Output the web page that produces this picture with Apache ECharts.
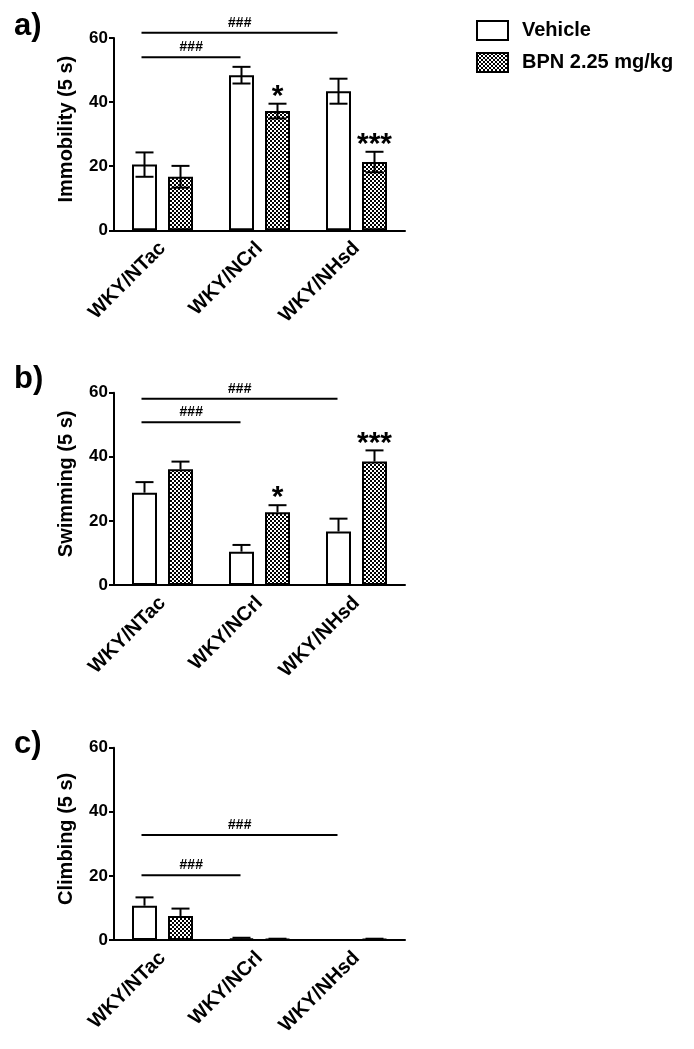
<!DOCTYPE html>
<html>
<head>
<meta charset="utf-8">
<script src="https://cdn.jsdelivr.net/npm/echarts@6/dist/echarts.min.js"></script>
<style>
html, body { margin: 0; padding: 0; background: #fff; }
#chart { width: 694px; height: 1049px; }
</style>
</head>
<body>
<div id="chart"></div>
<script>
// categories and tick labels
const categories = ['WKY/NTac', 'WKY/NCrl', 'WKY/NHsd'];
const groups = ['Vehicle', 'BPN 2.25 mg/kg'];
const yTicks = [0, 20, 40, 60];
const panelNames = ['Immobility (5 s)', 'Swimming (5 s)', 'Climbing (5 s)'];
const panelTags = ['a)', 'b)', 'c)'];

// a) immobility
const immVehicle = [20.5, 48.4, 43.4];
const immVehicleErr = [3.8, 2.6, 3.9];
const immBpn = [16.7, 37.2, 21.3];
const immBpnErr = [3.4, 2.3, 3.2];
const immStars = ['', '*', '***'];
const immSig = [[0, 1, 54], [0, 2, 61.6]];   // from group, to group, height

// b) swimming
const swimVehicle = [28.8, 10.4, 16.7];
const swimVehicleErr = [3.3, 2.1, 4.0];
const swimBpn = [36.1, 22.7, 38.5];
const swimBpnErr = [2.4, 2.2, 3.5];
const swimStars = ['', '*', '***'];
const swimSig = [[0, 1, 50.8], [0, 2, 58.1]];

// c) climbing
const climbVehicle = [10.7, 0.5, 0];
const climbVehicleErr = [2.6, 0.2, 0];
const climbBpn = [7.5, 0.3, 0.3];
const climbBpnErr = [2.3, 0.1, 0.1];
const climbStars = ['', '', ''];
const climbSig = [[0, 1, 20.2], [0, 2, 32.8]];

const panels = [
  {veh: immVehicle, vehErr: immVehicleErr, bpn: immBpn, bpnErr: immBpnErr, stars: immStars, sig: immSig, both: true},
  {veh: swimVehicle, vehErr: swimVehicleErr, bpn: swimBpn, bpnErr: swimBpnErr, stars: swimStars, sig: swimSig, both: false},
  {veh: climbVehicle, vehErr: climbVehicleErr, bpn: climbBpn, bpnErr: climbBpnErr, stars: climbStars, sig: climbSig, both: false}
];

const FONT = 'Liberation Sans, Arial, sans-serif';
const BAR_W = 25;
const BAR_GAP = 11;
const OFFSET = (BAR_W + BAR_GAP) / 2;
const gridTops = [38, 392.7, 747.7];
const tagTops = [11, 364, 729];

// checker pattern for the BPN bars
const tile = document.createElement('canvas');
tile.width = 4;
tile.height = 4;
const g = tile.getContext('2d');
g.fillStyle = '#000';
g.fillRect(0, 0, 4, 4);
g.fillStyle = '#fff';
g.fillRect(0, 0, 2, 2);
g.fillRect(2, 2, 2, 2);
const checker = {image: tile, repeat: 'repeat'};

function errBars(offset, both, stars) {
  return function (params, api) {
    const c = api.value(0), v = api.value(1), e = api.value(2);
    const top = api.coord([c, v + e]);
    const bot = api.coord([c, both ? v - e : v]);
    const x = top[0] + offset;
    const star = stars ? stars[params.dataIndex] : '';
    const kids = [
      {type: 'line', shape: {x1: x, y1: top[1], x2: x, y2: bot[1]}, style: {stroke: '#000', lineWidth: 2}},
      {type: 'line', shape: {x1: x - 9, y1: top[1], x2: x + 9, y2: top[1]}, style: {stroke: '#000', lineWidth: 2}}
    ];
    if (both) {
      kids.push({type: 'line', shape: {x1: x - 9, y1: bot[1], x2: x + 9, y2: bot[1]}, style: {stroke: '#000', lineWidth: 2}});
    }
    if (star) {
      kids.push({type: 'text', style: {x: x, y: top[1] + 8, text: star, fill: '#000',
        font: 'bold 30px ' + FONT, align: 'center', verticalAlign: 'bottom'}});
    }
    return {type: 'group', children: kids};
  };
}

function sigLines(params, api) {
  const a = api.coord([api.value(0), api.value(2)]);
  const b = api.coord([api.value(1), api.value(2)]);
  const x1 = a[0] - OFFSET - 3, x2 = b[0] - OFFSET - 1;
  return {type: 'group', children: [
    {type: 'line', shape: {x1: x1, y1: a[1], x2: x2, y2: a[1]}, style: {stroke: '#000', lineWidth: 2}},
    {type: 'text', style: {x: (x1 + x2) / 2, y: a[1] - 3, text: '###', fill: '#000',
      font: 'italic bold 14px ' + FONT, align: 'center', verticalAlign: 'bottom'}}
  ]};
}

const grids = [], xAxes = [], yAxes = [], series = [], graphics = [];
panels.forEach(function (p, i) {
  grids.push({left: 114, top: gridTops[i], width: 291, height: 192.3});
  xAxes.push({
    type: 'category', gridIndex: i, data: categories,
    axisLine: {lineStyle: {color: '#000', width: 2}},
    axisTick: {alignWithLabel: true, length: 5, lineStyle: {color: '#000', width: 2}},
    axisLabel: {rotate: 45, margin: 15, color: '#000', fontWeight: 'bold', fontSize: 20, fontFamily: FONT}
  });
  yAxes.push({
    type: 'value', gridIndex: i, min: yTicks[0], max: yTicks[yTicks.length - 1], interval: 20,
    name: panelNames[i], nameLocation: 'middle', nameGap: 38,
    nameTextStyle: {color: '#000', fontWeight: 'bold', fontSize: 20, fontFamily: FONT, padding: [0, 0, 0, 10]},
    axisLine: {show: true, lineStyle: {color: '#000', width: 2}},
    axisTick: {show: true, length: 5, lineStyle: {color: '#000', width: 2}},
    axisLabel: {color: '#000', fontWeight: 'bold', fontSize: 17, fontFamily: FONT, margin: 6},
    splitLine: {show: false}
  });
  series.push({
    name: groups[0], type: 'bar', xAxisIndex: i, yAxisIndex: i, data: p.veh,
    barWidth: BAR_W, barGap: (BAR_GAP / BAR_W * 100) + '%',
    itemStyle: {color: '#fff', borderColor: '#000', borderWidth: 2}
  });
  series.push({
    name: groups[1], type: 'bar', xAxisIndex: i, yAxisIndex: i, data: p.bpn,
    barWidth: BAR_W,
    itemStyle: {color: checker, borderColor: '#000', borderWidth: 2}
  });
  series.push({
    type: 'custom', xAxisIndex: i, yAxisIndex: i, z: 5, silent: true,
    renderItem: errBars(-OFFSET, p.both, null),
    data: p.veh.map(function (v, k) { return [k, v, p.vehErr[k]]; })
  });
  series.push({
    type: 'custom', xAxisIndex: i, yAxisIndex: i, z: 5, silent: true,
    renderItem: errBars(OFFSET, p.both, p.stars),
    data: p.bpn.map(function (v, k) { return [k, v, p.bpnErr[k]]; })
  });
  series.push({
    type: 'custom', xAxisIndex: i, yAxisIndex: i, z: 5, silent: true,
    renderItem: sigLines, data: p.sig
  });
  graphics.push({type: 'text', left: 14, top: tagTops[i],
    style: {text: panelTags[i], fill: '#000', font: 'bold 31px ' + FONT}});
});

const chart = echarts.init(document.getElementById('chart'));
chart.setOption({
  backgroundColor: '#fff',
  animation: false,
  grid: grids,
  xAxis: xAxes,
  yAxis: yAxes,
  legend: {
    data: groups, orient: 'vertical', left: 476, top: 20, itemGap: 11, padding: 0,
    itemWidth: 31, itemHeight: 19, icon: 'rect',
    textStyle: {color: '#000', fontWeight: 'bold', fontSize: 20, fontFamily: FONT, padding: [0, 0, 0, 9]},
    selectedMode: false
  },
  graphic: graphics,
  series: series
});
</script>
</body>
</html>
